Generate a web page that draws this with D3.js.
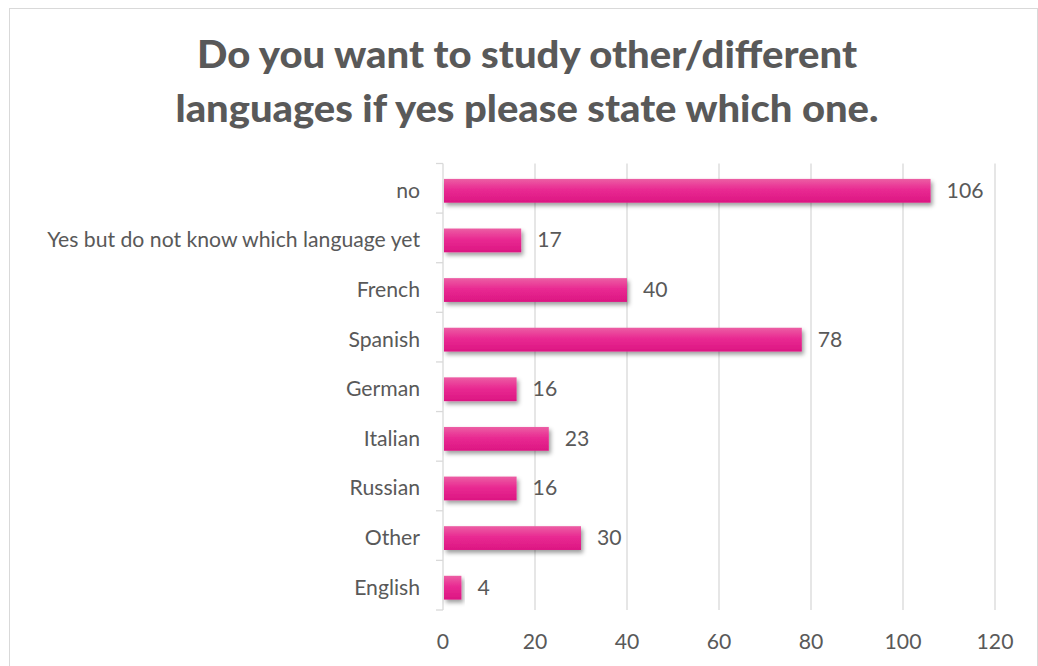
<!DOCTYPE html>
<html><head><meta charset="utf-8">
<script src="https://cdn.jsdelivr.net/npm/d3@7"></script>
<style>body{margin:0;background:#fff;} svg{display:block;}</style>
</head><body>
<svg id="c" width="1038" height="666"></svg>
<script>
const categories = ["no","Yes but do not know which language yet","French","Spanish","German","Italian","Russian","Other","English"];
const values = [106,17,40,78,16,23,16,30,4];
const ticks = [0,20,40,60,80,100,120];
const titleLines = ["Do you want to study other/different","languages if yes please state which one."];

const svg = d3.select("#c");
const W=1038,H=666;
const font = "Lato, 'Open Sans', sans-serif";
const txt = "#595959";
const fs = 21.2;

svg.append("rect").attr("x",9.5).attr("y",8.5).attr("width",W-10).attr("height",H-8).attr("fill","#fff").attr("stroke","#d9d9d9").attr("stroke-width",1);

const defs = svg.append("defs");
const g1 = defs.append("linearGradient").attr("id","bg").attr("x1",0).attr("y1",0).attr("x2",0).attr("y2",1);
g1.append("stop").attr("offset","0%").attr("stop-color","#ec5ea4");
g1.append("stop").attr("offset","45%").attr("stop-color","#e92a92");
g1.append("stop").attr("offset","100%").attr("stop-color","#dc1682");
const f = defs.append("filter").attr("id","sh").attr("x","-10%").attr("y","-30%").attr("width","130%").attr("height","190%");
f.append("feDropShadow").attr("dx",2).attr("dy",3).attr("stdDeviation",2.2).attr("flood-color","#000").attr("flood-opacity",0.38);

const x = d3.scaleLinear().domain([0,120]).range([443,995]);
const y = d3.scaleBand().domain(categories).range([163.5,610]).paddingInner(0.5).paddingOuter(0.25);

// gridlines
svg.append("g").selectAll("line").data(ticks).join("line")
  .attr("x1",d=>x(d)).attr("x2",d=>x(d)).attr("y1",163.5).attr("y2",610)
  .attr("stroke",d=>d===0?"none":"#d9d9d9").attr("stroke-width",1.3);

// y axis line and ticks
const band = (610-163.5)/categories.length;
svg.append("line").attr("x1",443).attr("x2",443).attr("y1",163.5).attr("y2",610).attr("stroke","#d9d9d9").attr("stroke-width",1.3);
svg.append("g").selectAll("line").data(d3.range(categories.length+1)).join("line")
  .attr("x1",436).attr("x2",443).attr("y1",i=>163.5+i*band).attr("y2",i=>163.5+i*band)
  .attr("stroke","#d9d9d9").attr("stroke-width",1.3);

// bars
svg.append("g").selectAll("rect").data(values).join("rect")
  .attr("x",x(0)+1).attr("y",(d,i)=>y(categories[i])+3)
  .attr("width",d=>x(d)-x(0)-1).attr("height",y.bandwidth()-1)
  .attr("fill","url(#bg)").attr("filter","url(#sh)");

// value labels
svg.append("g").selectAll("text").data(values).join("text")
  .attr("x",d=>x(d)+16).attr("y",(d,i)=>y(categories[i])+2+y.bandwidth()/2)
  .attr("dy","0.35em").attr("fill",txt).attr("font-family",font).attr("font-size",fs)
  .text(d=>d);

// category labels
svg.append("g").selectAll("text").data(categories).join("text")
  .attr("x",420).attr("y",d=>y(d)+2+y.bandwidth()/2).attr("dy","0.35em")
  .attr("text-anchor","end").attr("fill",txt).attr("font-family",font).attr("font-size",fs)
  .text(d=>d);

// x tick labels
svg.append("g").selectAll("text").data(ticks).join("text")
  .attr("x",d=>x(d)).attr("y",642).attr("dy","0.35em").attr("text-anchor","middle")
  .attr("fill",txt).attr("font-family",font).attr("font-size",fs).text(d=>d);

// title
const tw=[660,703];
svg.append("g").selectAll("text").data(titleLines).join("text")
  .attr("x",527).attr("y",(d,i)=>68+i*54).attr("text-anchor","middle")
  .attr("fill",txt).attr("font-family",font).attr("font-weight","900").attr("font-size",38)
  .attr("textLength",(d,i)=>tw[i]).attr("lengthAdjust","spacingAndGlyphs")
  .text(d=>d);
</script>
</body></html>
